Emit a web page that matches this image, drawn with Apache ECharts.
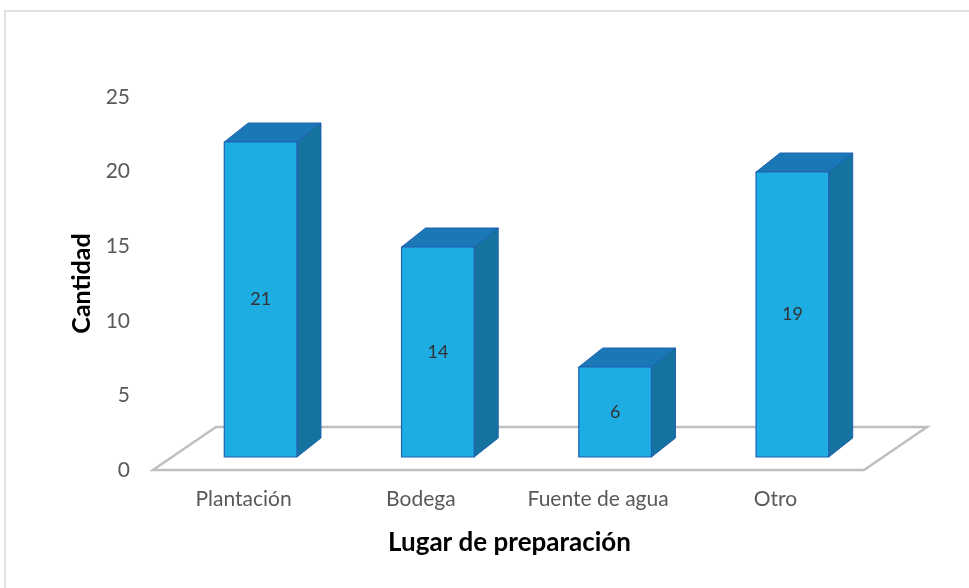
<!DOCTYPE html>
<html><head><meta charset="utf-8">
<script src="https://cdn.jsdelivr.net/npm/echarts@6/dist/echarts.min.js"></script>
<style>html,body{margin:0;padding:0;background:#fff}#c{width:969px;height:588px}</style>
</head><body><div id="c"></div>
<script>
const categories = ['Plantación', 'Bodega', 'Fuente de agua', 'Otro'];
const values = [21, 14, 6, 19];
const yTicks = [0, 5, 10, 15, 20, 25];

const chart = echarts.init(document.getElementById('c'));
const DX = 24, DY = 19, FDX = 63, FDY = 43;
const FONT = 'Lato';

chart.setOption({
  backgroundColor: '#fff',
  animation: false,
  graphic: [{
    type: 'rect', shape: {x: 5, y: 11, width: 980, height: 600},
    style: {fill: '#fff', stroke: '#d9d9d9', lineWidth: 1.5}, z: -10, silent: true
  }],
  grid: [
    {left: 155, right: 105, top: 97, bottom: 118},
    {left: 172, right: 88, top: 82, bottom: 131}
  ],
  xAxis: [
    {type: 'category', gridIndex: 0, data: categories,
     axisLine: {show: false}, axisTick: {show: false},
     axisLabel: {color: '#595959', fontSize: 21, fontFamily: FONT, margin: 19, interval: 0, hideOverlap: false},
     name: 'Lugar de preparación', nameLocation: 'middle', nameGap: 60,
     nameTextStyle: {color: '#000', fontSize: 26, fontWeight: 'bold', fontFamily: FONT}},
    {type: 'category', gridIndex: 1, data: categories, show: false}
  ],
  yAxis: [
    {type: 'value', gridIndex: 0, min: yTicks[0], max: yTicks[yTicks.length - 1], interval: 5,
     axisLine: {show: false}, axisTick: {show: false}, splitLine: {show: false},
     axisLabel: {color: '#595959', fontSize: 21, fontFamily: FONT, margin: 25},
     name: 'Cantidad', nameLocation: 'middle', nameGap: 60, nameRotate: 90,
     nameTextStyle: {color: '#000', fontSize: 25, fontWeight: 'bold', fontFamily: FONT}},
    {type: 'value', gridIndex: 1, min: 0, max: 25, show: false}
  ],
  series: [
    {
      type: 'custom', xAxisIndex: 0, yAxisIndex: 0, z: 1, silent: true,
      data: [[0, 0]],
      renderItem: function (params, api) {
        const cs = params.coordSys;
        const y0 = api.coord([0, 0])[1];
        const xl = cs.x, xr = cs.x + cs.width;
        return {
          type: 'polygon',
          shape: {points: [[xl - 2, y0], [xr, y0], [xr + FDX, y0 - FDY], [xl - 2 + FDX, y0 - FDY]]},
          style: {fill: '#fff', stroke: '#bfbfbf', lineWidth: 2.5}
        };
      }
    },
    {
      type: 'custom', xAxisIndex: 1, yAxisIndex: 1, z: 5,
      data: values.map((v, i) => [i, v]),
      renderItem: function (params, api) {
        const i = api.value(0), v = api.value(1);
        const b = api.coord([i, 0]);
        const t = api.coord([i, v]);
        const w = api.size([1, 0])[0] * 0.41;
        const x0 = b[0] - w / 2, x1 = b[0] + w / 2;
        const yt = t[1], yb = b[1];
        const edge = '#2060b0';
        return {
          type: 'group',
          children: [
            {type: 'polygon', shape: {points: [[x1, yt], [x1 + DX, yt - DY], [x1 + DX, yb - DY], [x1, yb]]},
             style: {fill: '#15749f', stroke: edge, lineWidth: 1}},
            {type: 'polygon', shape: {points: [[x0, yt], [x0 + DX, yt - DY], [x1 + DX, yt - DY], [x1, yt]]},
             style: {fill: '#1a78b6', stroke: edge, lineWidth: 1}},
            {type: 'rect', shape: {x: x0, y: yt, width: w, height: yb - yt},
             style: {fill: '#1dade3', stroke: edge, lineWidth: 1.2}},
            {type: 'text', x: b[0], y: (yt + yb) / 2,
             style: {text: String(v), fill: '#333333', fontSize: 18, fontFamily: FONT,
                     align: 'center', verticalAlign: 'middle'}}
          ]
        };
      }
    }
  ]
});
</script></body></html>
